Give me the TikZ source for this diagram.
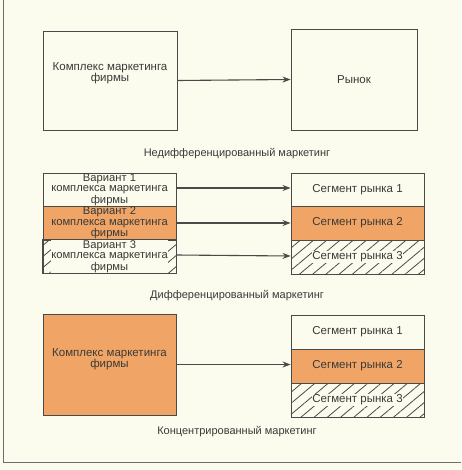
\documentclass[tikz,border=0pt]{standalone}
\usepackage{fontspec}
\setmainfont{Liberation Sans}
\usetikzlibrary{patterns.meta,arrows.meta}
\definecolor{bg}{HTML}{FBFBEE}
\definecolor{ora}{HTML}{F0A566}
\definecolor{ink}{HTML}{4A4A48}
\definecolor{txt}{HTML}{3A3A38}
\tikzset{
  box/.style={draw=ink,line width=0.9pt,rectangle,inner sep=0pt,minimum width=133pt,text=txt,align=center,font=\fontsize{11.5}{11}\selectfont},
  tri/.style={font=\fontsize{11.2}{10.2}\selectfont},
  orbox/.style={box,fill=ora},
  hbox/.style={box,pattern={Lines[angle=40,distance=8.5pt,line width=0.8pt]},pattern color=ink},
  lab/.style={text=txt,align=center,font=\fontsize{11.5}{11}\selectfont,inner sep=0.3pt},
  captxt/.style={text=txt,font=\fontsize{11}{12}\selectfont},
  arr/.style={draw=ink,line width=1.1pt,-{Stealth[length=8pt,width=6pt]}},
  frameline/.style={draw=ink!80,line width=1pt},
  border/.style={draw=ink,line width=0.9pt}
}
\begin{document}
\begin{tikzpicture}[x=1pt,y=-1pt]
\fill[bg] (0,0) rectangle (461,470);
\useasboundingbox (0,0) rectangle (461,470);
\draw[frameline] (3,0) -- (3,462) -- (461,462);
% section 1
\node[box,minimum width=134pt,minimum height=99pt] (k1) at (110,80.5) {};
\node[lab] (k1t) at (110,73) {Комплекс маркетинга\\фирмы};
\node[box,minimum width=126pt,minimum height=101pt] (r) at (354,79.5) {Рынок};
\draw[arr] (k1.east) -- (r.west);
\node[captxt] (c1) at (237,154) {Недифференцированный маркетинг};
% section 2
\node[box,tri,minimum height=33pt] (v1) at (109.5,189.5) {Вариант 1\\комплекса маркетинга\\фирмы};
\node[orbox,tri,minimum height=34pt] (v2) at (109.5,223) {Вариант 2\\комплекса маркетинга\\фирмы};
\node[hbox,minimum height=33pt] (v3) at (109.5,256.5) {};
\node[lab,tri,fill=bg] (v3t) at (v3) {Вариант 3\\комплекса маркетинга\\фирмы};
\draw[border] (v3.north west) rectangle (v3.south east);
\node[box,minimum height=33pt] (s1) at (357.5,189.5) {Сегмент рынка 1};
\node[orbox,minimum height=34pt] (s2) at (357.5,223) {Сегмент рынка 2};
\node[hbox,minimum height=34pt] (s3) at (357.5,257) {};
\node[lab,fill=bg] (s3t) at (s3) {Сегмент рынка 3};
\draw[arr] ([yshift=1.5pt]v1.east) -- ([yshift=1.5pt]s1.west);
\draw[arr] (v2.east) -- (s2.west);
\draw[arr] ([yshift=1.5pt]v3.east) -- ([yshift=1pt]s3.west);
\node[captxt] (c2) at (237,296) {Дифференцированный маркетинг};
% section 3
\node[orbox,minimum height=101pt] (k3) at (109.5,364.5) {};
\node[lab] (k3t) at (109.5,359) {Комплекс маркетинга\\фирмы};
\node[box,minimum height=34pt] (t1) at (357.5,332) {Сегмент рынка 1};
\node[orbox,minimum height=34pt] (t2) at (357.5,366) {Сегмент рынка 2};
\node[hbox,minimum height=34pt] (t3) at (357.5,400) {};
\node[lab,fill=bg] (t3t) at (t3) {Сегмент рынка 3};
\draw[arr] (k3.east) -- (k3.east -| t2.west);
\node[captxt] (c3) at (237,432) {Концентрированный маркетинг};
\end{tikzpicture}
\end{document}
